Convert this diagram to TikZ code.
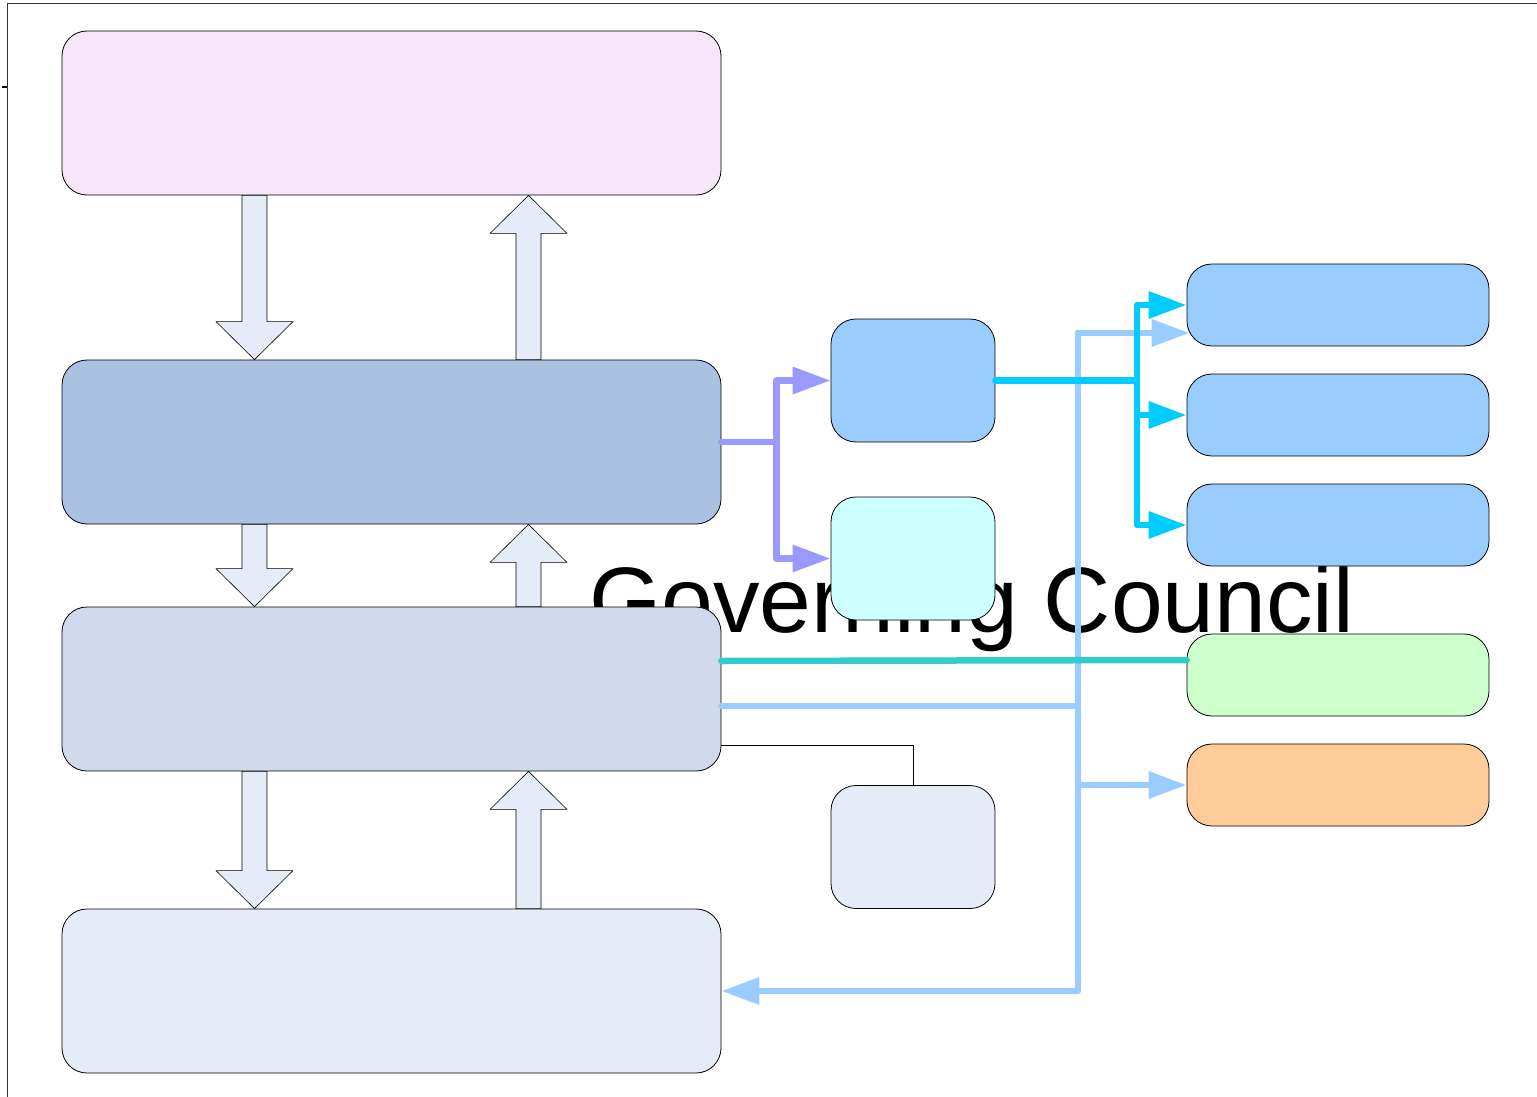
\documentclass[tikz,border=0pt]{standalone}
\usepackage{fontspec}
\setmainfont{Liberation Sans}
\usetikzlibrary{arrows.meta,calc}
\definecolor{framegray}{HTML}{333333}
\definecolor{pinkfill}{HTML}{F6E6F8}
\definecolor{steelfill}{HTML}{ABC1E2}
\definecolor{palefill}{HTML}{CFDBED}
\definecolor{mistfill}{HTML}{E5ECF7}
\definecolor{skyfill}{HTML}{99CCFF}
\definecolor{icefill}{HTML}{CCFFFF}
\definecolor{mintfill}{HTML}{CCFFCC}
\definecolor{peachfill}{HTML}{FFCC99}
\definecolor{linepurple}{HTML}{9999FF}
\definecolor{linecyan}{HTML}{00CCFF}
\definecolor{linesky}{HTML}{99CCFF}
\definecolor{lineteal}{HTML}{33CCCC}

\newcommand{\fatarrow}[2]{%
  \draw[fatarrow] let \p1=#1, \p2=#2, \n1={ifthenelse(\y1>\y2,1,-1)} in
    (\x1-12.5pt,\y1) -- (\x1-12.5pt,\y2+38pt*\n1) -- (\x1-38.5pt,\y2+38pt*\n1)
    -- (\x2,\y2) -- (\x1+38.5pt,\y2+38pt*\n1) -- (\x1+12.5pt,\y2+38pt*\n1)
    -- (\x1+12.5pt,\y1) -- cycle;}

\begin{document}
\begin{tikzpicture}[x=1pt, y=-1pt, line join=round,
  box/.style={draw=black, line width=0.8pt, rounded corners=25pt, inner sep=0pt},
  bigbox/.style={box, minimum width=659pt, minimum height=164pt},
  midbox/.style={box, minimum width=164pt, minimum height=123pt},
  sidebox/.style={box, minimum width=302pt, minimum height=82pt},
  fatarrow/.style={draw=black, line width=0.6pt, fill=mistfill},
  link/.style={line width=6.5pt, line cap=round},
  headed/.style={-{Triangle[length=38pt,width=26pt]}}]
  \useasboundingbox (0,0) rectangle (1537,1097);
  \draw[framegray, line width=1pt] (7,1097) -- (7,3.5) -- (1537,3.5);
  \draw[black, line width=2pt] (2,87) -- (7,87);

  \node[anchor=base west, inner sep=0pt, font=\fontsize{93}{97}\selectfont] (title) at (589,632) {Governing Council};

  \node[bigbox, fill=pinkfill] (top) at (391.5,113) {};
  \node[bigbox, fill=steelfill] (upper) at (391.5,442) {};
  \node[bigbox, fill=palefill] (middle) at (391.5,689) {};
  \node[bigbox, fill=mistfill] (bottom) at (391.5,991) {};
  \node[midbox, fill=skyfill] (hubA) at (913,380.5) {};
  \node[midbox, fill=icefill] (hubB) at (913,558.5) {};
  \node[midbox, fill=mistfill] (hubC) at (913,847) {};
  \node[sidebox, fill=skyfill] (sideA) at (1338,305) {};
  \node[sidebox, fill=skyfill] (sideB) at (1338,415) {};
  \node[sidebox, fill=skyfill] (sideC) at (1338,525) {};
  \node[sidebox, fill=mintfill] (sideD) at (1338,675) {};
  \node[sidebox, fill=peachfill] (sideE) at (1338,785) {};

  \coordinate (dl) at (254.5,0);
  \coordinate (ul) at (528.5,0);
  \fatarrow{(top.south -| dl)}{(upper.north -| dl)}
  \fatarrow{(upper.north -| ul)}{(top.south -| ul)}
  \fatarrow{(upper.south -| dl)}{(middle.north -| dl)}
  \fatarrow{(middle.north -| ul)}{(upper.south -| ul)}
  \fatarrow{(middle.south -| dl)}{(bottom.north -| dl)}
  \fatarrow{(bottom.north -| ul)}{(middle.south -| ul)}

  \draw[black, line width=0.8pt] ([yshift=-56pt]middle.east) -| (hubC.north);

  \draw[link, linepurple] (upper.east) -- ++(55,0) coordinate (pj);
  \draw[link, linepurple, headed] (pj) |- (hubA.west);
  \draw[link, linepurple, headed] (pj) |- (hubB.west);

  \draw[link, linesky] ([yshift=-17pt]middle.east) -- (1078,706) coordinate (sj);
  \draw[link, linesky, headed] (sj |- 0,333) -- ([yshift=-28pt,xshift=3pt]sideA.west);
  \draw[link, linesky] (sj |- 0,333) -- (sj);
  \draw[link, linesky, headed] (sj) |- (bottom.east);
  \draw[link, linesky, headed] (sj |- sideE.west) -- (sideE.west);

  \draw[link, linecyan] (hubA.east) -- (1137,380.5) coordinate (cj);
  \draw[link, linecyan, headed] (cj) |- (sideA.west);
  \draw[link, linecyan, headed] (cj) |- (sideB.west);
  \draw[link, linecyan, headed] (cj) |- (sideC.west);

  \draw[link, lineteal] ([yshift=28pt]middle.east) -- ([yshift=15pt]sideD.west);
\end{tikzpicture}
\end{document}
